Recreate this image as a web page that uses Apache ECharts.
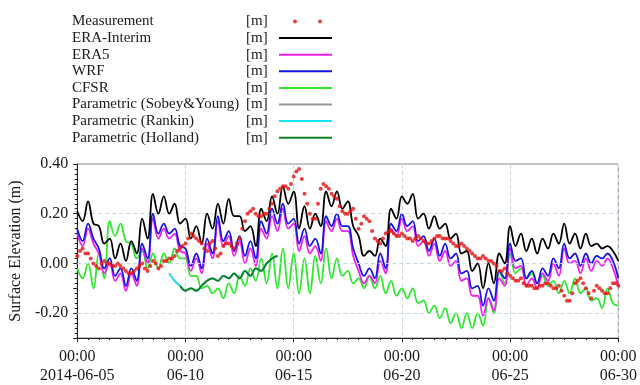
<!DOCTYPE html>
<html>
<head>
<meta charset="utf-8">
<script src="https://cdn.jsdelivr.net/npm/echarts@6/dist/echarts.min.js"></script>
<style>
  html, body { margin: 0; padding: 0; background: #fff; }
  #chart { width: 640px; height: 385px; }
</style>
</head>
<body>
<div id="chart"></div>
<script>
// model output: one sample every 6 hours, starting 2014-06-05 00:00
const STEP_HOURS = 6;
// measurement: one sample every 3 hours
const MEAS_STEP_HOURS = 3;
const xTickLabels = ['00:00\n2014-06-05', '00:00\n06-10', '00:00\n06-15', '00:00\n06-20', '00:00\n06-25', '00:00\n06-30'];
const yGridValues = [0.2, 0, -0.2];

const measurement = [
  0.03, 0.05, 0.06, 0.04, 0.04, 0.02, 0.00, -0.01,
  -0.02, 0.00, 0.01, 0.00, 0.00, -0.01, -0.01, 0.00,
  -0.01, -0.02, -0.03, -0.04, -0.04, -0.03, -0.02, -0.01,
  0.00, -0.02, -0.03, -0.01, 0.01, 0.00, -0.02, -0.01,
  0.01, 0.01, 0.02, 0.02, 0.03, 0.05, 0.06, 0.07,
  0.08, 0.10, 0.12, 0.11, 0.10, 0.09, 0.08, 0.06,
  0.05, 0.08, 0.09, 0.06, 0.03, 0.04, 0.07, 0.08,
  0.08, 0.07, 0.06, 0.08, 0.10, 0.14, 0.17, 0.20,
  0.21, 0.22, 0.20, 0.19, 0.19, 0.20, 0.20, 0.22,
  0.24, 0.27, 0.29, 0.30, 0.31, 0.31, 0.30, 0.32,
  0.35, 0.37, 0.38, 0.34, 0.28, 0.24, 0.20, 0.18,
  0.18, 0.24, 0.30, 0.32, 0.31, 0.30, 0.28, 0.27,
  0.26, 0.23, 0.21, 0.20, 0.20, 0.21, 0.22, 0.18,
  0.14, 0.16, 0.19, 0.18, 0.17, 0.13, 0.10, 0.09,
  0.08, 0.10, 0.12, 0.13, 0.13, 0.12, 0.11, 0.11,
  0.12, 0.11, 0.10, 0.10, 0.09, 0.10, 0.11, 0.10,
  0.09, 0.08, 0.08, 0.09, 0.10, 0.11, 0.11, 0.10,
  0.10, 0.10, 0.09, 0.08, 0.07, 0.07, 0.08, 0.07,
  0.06, 0.05, 0.04, 0.03, 0.02, 0.02, 0.03, 0.02,
  0.01, 0.01, 0.00, -0.01, -0.03, -0.03, -0.02, -0.04,
  -0.05, -0.06, -0.07, -0.07, -0.06, -0.08, -0.09, -0.09,
  -0.09, -0.10, -0.10, -0.09, -0.09, -0.08, -0.08, -0.09,
  -0.10, -0.10, -0.09, -0.11, -0.13, -0.15, -0.15, -0.12,
  -0.08, -0.07, -0.06, -0.08, -0.10, -0.12, -0.14, -0.11,
  -0.09, -0.10, -0.11, -0.12, -0.12, -0.10, -0.08, -0.08,
  -0.09
];

const eraInterim = [
  0.21, 0.17, 0.25, 0.16,  0.15, 0.08, 0.10, 0.02,  0.08, 0.01, 0.09, 0.04,
  0.18, 0.10, 0.28, 0.20,  0.27, 0.20, 0.24, 0.16,  0.18, 0.10, 0.15, 0.08,
  0.20, 0.14, 0.24, 0.16,  0.26, 0.19, 0.19, 0.13,  0.15, 0.07, 0.22, 0.17,
  0.27, 0.20, 0.31, 0.24,  0.29, 0.14, 0.23, 0.14,  0.20, 0.15, 0.29, 0.23,
  0.29, 0.22, 0.25, 0.15,  0.11, 0.03, 0.05, 0.03,  0.10, 0.07, 0.22, 0.18,
  0.27, 0.24, 0.28, 0.18,  0.20, 0.14, 0.19, 0.14,  0.16, 0.10, 0.12, 0.04,
  0.05, -0.03, 0.00, -0.10,  0.00, -0.08, 0.04, 0.00,  0.15, 0.07, 0.12, 0.05,
  0.10, 0.04, 0.10, 0.06,  0.12, 0.08, 0.16, 0.08,  0.12, 0.06, 0.12, 0.07,
  0.08, 0.06, 0.07, 0.05,  0.01
];

const era5 = [
  0.12, 0.07, 0.14, 0.08,  0.04, -0.04, 0.00, -0.07,  -0.04, -0.11, -0.04, -0.09,
  0.06, 0.00, 0.18, 0.10,  0.14, 0.10, 0.12, 0.05,  0.04, -0.03, 0.02, -0.04,
  0.08, 0.02, 0.17, 0.07,  0.11, 0.03, 0.09, 0.00,  0.06, -0.01, 0.14, 0.10,
  0.19, 0.13, 0.22, 0.14,  0.16, 0.05, 0.11, 0.04,  0.07, 0.01, 0.17, 0.13,
  0.18, 0.13, 0.13, 0.03,  -0.03, -0.08, -0.05, -0.08,  0.01, -0.04, 0.14, 0.11,
  0.18, 0.13, 0.15, 0.07,  0.09, 0.03, 0.08, 0.01,  0.05, -0.01, 0.01, -0.07,
  -0.06, -0.13, -0.13, -0.21,  -0.14, -0.19, -0.06, -0.09,  0.06, -0.02, -0.01, -0.09,
  -0.06, -0.10, -0.04, -0.07,  0.00, -0.05, 0.06, 0.00,  0.01, -0.04, 0.02, -0.03,
  0.01, -0.01, 0.02, -0.02,  -0.09
];

const wrf = [
  0.14, 0.09, 0.16, 0.10,  0.06, -0.02, 0.02, -0.05,  -0.02, -0.09, -0.02, -0.07,
  0.08, 0.02, 0.20, 0.12,  0.16, 0.12, 0.14, 0.07,  0.06, -0.01, 0.04, -0.02,
  0.10, 0.04, 0.19, 0.09,  0.13, 0.05, 0.11, 0.03,  0.09, 0.02, 0.17, 0.12,
  0.22, 0.16, 0.24, 0.16,  0.18, 0.08, 0.14, 0.07,  0.10, 0.04, 0.19, 0.15,
  0.20, 0.15, 0.15, 0.06,  0.00, -0.05, -0.02, -0.06,  0.04, -0.02, 0.16, 0.13,
  0.20, 0.15, 0.17, 0.09,  0.11, 0.05, 0.10, 0.03,  0.08, 0.02, 0.04, -0.04,
  -0.03, -0.10, -0.09, -0.17,  -0.10, -0.15, -0.03, -0.06,  0.08, 0.01, 0.02, -0.06,
  -0.03, -0.08, -0.02, -0.05,  0.02, -0.02, 0.08, 0.02,  0.04, -0.01, 0.04, 0.00,
  0.03, 0.02, 0.04, 0.01,  -0.06
];

const cfsr = [
  -0.02, -0.06, 0.00, -0.10,  0.04, -0.06, 0.17, 0.11,  0.16, 0.09, 0.08, 0.02,
  0.05, -0.02, 0.04, -0.02,  0.04, 0.00, 0.06, 0.02,  0.02, -0.05, -0.05, -0.10,
  -0.09, -0.12, -0.10, -0.14,  -0.08, -0.12, -0.05, -0.09,  -0.02, -0.07, 0.02, -0.08,
  0.04, -0.10, 0.06, -0.10,  0.04, -0.12, 0.02, -0.12,  0.03, -0.08, 0.06, -0.06,
  0.02, -0.05, -0.03, -0.08,  -0.06, -0.10, -0.05, -0.10,  -0.05, -0.12, -0.07, -0.13,
  -0.10, -0.14, -0.10, -0.16,  -0.15, -0.20, -0.17, -0.22,  -0.18, -0.24, -0.20, -0.26,
  -0.20, -0.26, -0.20, -0.25,  -0.14, -0.20, -0.03, -0.08,  0.04, -0.04, -0.02, -0.06,
  -0.04, -0.08, -0.05, -0.09,  -0.07, -0.12, -0.07, -0.12,  -0.06, -0.12, -0.10, -0.15,
  -0.14, -0.18, -0.10, -0.16,  -0.17
];

// parametric models only cover part of the period; index of first sample
const sobeyStart = 17;
const sobeyYoung = [-0.04, -0.07, -0.09, -0.11, -0.10, -0.11, -0.09, -0.07, -0.06, -0.07, -0.05,
  -0.06, -0.04, -0.06, -0.03, -0.05, -0.02, -0.03, 0.00, 0.02, 0.03];
const rankinStart = 17;
const rankin = [-0.04, -0.07, -0.09, -0.11, -0.10, -0.11, -0.09, -0.07, -0.06, -0.07, -0.05,
  -0.06, -0.04, -0.06, -0.03, -0.05, -0.02, -0.03, 0.00, 0.02, 0.03];
const hollandStart = 19;
const holland = [-0.09, -0.11, -0.10, -0.11, -0.09, -0.07, -0.06, -0.07, -0.05,
  -0.06, -0.04, -0.06, -0.03, -0.05, -0.02, -0.03, 0.00, 0.02, 0.03];

const toPairs = (vals, start = 0, step = STEP_HOURS) => vals.map((v, i) => [(start + i) * step, v]);

const FONT = 'Liberation Serif';
const lineIcon = 'path://M0,0 L53,0 L53,2 L0,2 Z';
const dotsIcon = 'path://M0,0 M53,8 M14,4 a2,2 0 1,0 4,0 a2,2 0 1,0 -4,0 Z M39,4 a2,2 0 1,0 4,0 a2,2 0 1,0 -4,0 Z';

const lineSeries = (name, vals, color, start, z) => ({
  name,
  type: 'line',
  data: toPairs(vals, start),
  symbol: 'none',
  smooth: 0.4,
  z,
  lineStyle: { color, width: 1.8 },
  itemStyle: { color },
});

const chart = echarts.init(document.getElementById('chart'), null, { renderer: 'canvas' });

const option = {
  animation: false,
  backgroundColor: '#ffffff',
  textStyle: { fontFamily: FONT },
  grid: {
    left: 72, right: 20, top: 164, bottom: 42,
    show: true, borderColor: '#8a8a8a', borderWidth: 1,
  },
  legend: {
    orient: 'vertical',
    left: 67,
    top: 9,
    align: 'right',
    itemWidth: 53,
    itemHeight: 8,
    itemGap: 1.6,
    symbolKeepAspect: true,
    itemStyle: { borderWidth: 0 },
    textStyle: {
      fontFamily: FONT, fontSize: 15, color: '#1a1a1a', lineHeight: 15,
      rich: {
        n: { fontFamily: FONT, fontSize: 15, color: '#1a1a1a', width: 174, align: 'left' },
        u: { fontFamily: FONT, fontSize: 15, color: '#1a1a1a', width: 28, align: 'left' },
      },
    },
    formatter: name => '{n|' + name + '}{u|[m]}',
    data: [
      { name: 'Measurement', icon: dotsIcon },
      { name: 'ERA-Interim', icon: lineIcon },
      { name: 'ERA5', icon: lineIcon },
      { name: 'WRF', icon: lineIcon },
      { name: 'CFSR', icon: lineIcon },
      { name: 'Parametric (Sobey&Young)', icon: lineIcon },
      { name: 'Parametric (Rankin)', icon: lineIcon },
      { name: 'Parametric (Holland)', icon: lineIcon },
    ],
  },
  xAxis: {
    type: 'value',
    min: 0,
    max: 600,
    interval: 120,
    axisLine: { show: true, onZero: false, lineStyle: { color: '#222', width: 1 } },
    axisTick: { show: true, length: 4, lineStyle: { color: '#222' } },
    minorTick: { show: true, splitNumber: 10, length: 2, lineStyle: { color: '#222' } },
    splitLine: { show: true, lineStyle: { color: '#c9d6e3', type: [4, 3], width: 1 } },
    axisLabel: {
      margin: 9,
      fontFamily: FONT, fontSize: 16, color: '#1a1a1a', lineHeight: 19,
      formatter: v => xTickLabels[Math.round(v / 120)] || '',
    },
  },
  yAxis: {
    type: 'value',
    min: -0.3,
    max: 0.4,
    interval: 0.1,
    name: 'Surface Elevation (m)',
    nameLocation: 'middle',
    nameGap: 47,
    nameTextStyle: { fontFamily: FONT, fontSize: 16, color: '#1a1a1a' },
    axisLine: { show: true, onZero: false, lineStyle: { color: '#222', width: 1 } },
    axisTick: { show: true, length: 4, lineStyle: { color: '#222' } },
    minorTick: { show: true, splitNumber: 5, length: 2.5, lineStyle: { color: '#222' } },
    splitLine: { show: false },
    axisLabel: {
      margin: 9,
      fontFamily: FONT, fontSize: 16, color: '#1a1a1a',
      formatter: v => {
        const r = Math.round(v * 10);
        if (r % 2 !== 0) return '';
        return (r / 10).toFixed(2);
      },
    },
  },
  series: [
    Object.assign(lineSeries('CFSR', cfsr, '#2ee82e', 0, 2), {
      markLine: {
        silent: true,
        symbol: 'none',
        label: { show: false },
        lineStyle: { color: '#c9d6e3', type: [4, 3], width: 1 },
        data: yGridValues.map(v => ({ yAxis: v })),
      },
    }),
    lineSeries('ERA5', era5, '#f020f0', 0, 3),
    lineSeries('WRF', wrf, '#1515e6', 0, 4),
    lineSeries('ERA-Interim', eraInterim, '#000000', 0, 5),
    lineSeries('Parametric (Sobey&Young)', sobeyYoung, '#999999', sobeyStart, 6),
    lineSeries('Parametric (Rankin)', rankin, '#12e6f0', rankinStart, 7),
    lineSeries('Parametric (Holland)', holland, '#0f7f1f', hollandStart, 8),
    {
      name: 'Measurement',
      type: 'scatter',
      data: toPairs(measurement, 0, MEAS_STEP_HOURS),
      symbol: 'circle',
      symbolSize: 4,
      z: 9,
      itemStyle: { color: '#e61010' },
    },
  ],
};

chart.setOption(option);
</script>
</body>
</html>
